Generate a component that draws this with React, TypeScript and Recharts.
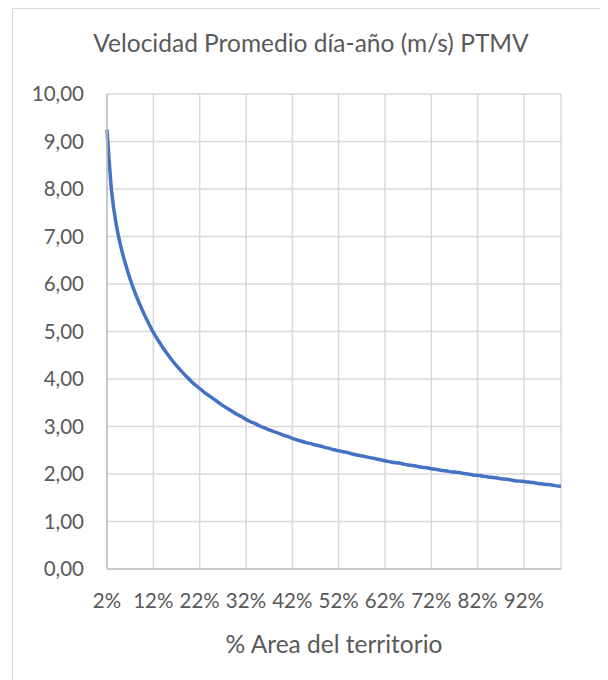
import React from 'react';
import { LineChart, Line, XAxis, YAxis, CartesianGrid } from 'recharts';

// % of territory area, 2% .. 100% in 1% steps
const areaPct = [
  2, 3, 4, 5, 6, 7, 8, 9, 10, 11,
  12, 13, 14, 15, 16, 17, 18, 19, 20, 21,
  22, 23, 24, 25, 26, 27, 28, 29, 30, 31,
  32, 33, 34, 35, 36, 37, 38, 39, 40, 41,
  42, 43, 44, 45, 46, 47, 48, 49, 50, 51,
  52, 53, 54, 55, 56, 57, 58, 59, 60, 61,
  62, 63, 64, 65, 66, 67, 68, 69, 70, 71,
  72, 73, 74, 75, 76, 77, 78, 79, 80, 81,
  82, 83, 84, 85, 86, 87, 88, 89, 90, 91,
  92, 93, 94, 95, 96, 97, 98, 99, 100,
];

// average day-year wind speed (m/s)
const speed = [
  9.25, 7.95, 7.25, 6.78, 6.42, 6.10, 5.83, 5.59, 5.37, 5.17,
  4.98, 4.82, 4.67, 4.53, 4.40, 4.28, 4.17, 4.07, 3.97, 3.88,
  3.80, 3.72, 3.65, 3.58, 3.51, 3.44, 3.38, 3.32, 3.26, 3.21,
  3.15, 3.10, 3.06, 3.01, 2.97, 2.93, 2.89, 2.86, 2.82, 2.79,
  2.75, 2.72, 2.69, 2.66, 2.64, 2.61, 2.59, 2.56, 2.54, 2.51,
  2.49, 2.47, 2.45, 2.42, 2.40, 2.38, 2.36, 2.34, 2.32, 2.30,
  2.28, 2.26, 2.24, 2.23, 2.21, 2.19, 2.18, 2.16, 2.14, 2.13,
  2.11, 2.10, 2.08, 2.07, 2.05, 2.04, 2.03, 2.01, 2.00, 1.98,
  1.97, 1.96, 1.94, 1.93, 1.92, 1.90, 1.89, 1.88, 1.86, 1.85,
  1.84, 1.83, 1.82, 1.80, 1.79, 1.78, 1.77, 1.75, 1.74,
];

const xTicks = ['2%', '12%', '22%', '32%', '42%', '52%', '62%', '72%', '82%', '92%'];
const yTicks = [0, 1, 2, 3, 4, 5, 6, 7, 8, 9, 10];

const data = areaPct.map((p, i) => ({ area: `${p}%`, v: speed[i] }));

const FONT = 'Lato, "Open Sans", sans-serif';
const TEXT = '#595959';

export default function App() {
  return (
    <div style={{ position: 'relative', width: 600, height: 672, overflow: 'hidden', background: '#fff', fontFamily: FONT }}>
      {/* chart area frame */}
      <div style={{ position: 'absolute', left: 4, top: 0, width: 640, height: 720, border: '1px solid #d9d9d9', boxSizing: 'border-box' }} />
      <div style={{ position: 'absolute', left: 0, top: 20, width: 606, textAlign: 'center', fontSize: 24.5, color: TEXT }}>
        Velocidad Promedio día-año (m/s) PTMV
      </div>
      <div style={{ position: 'absolute', left: 99, top: 621, width: 454, textAlign: 'center', fontSize: 24.5, color: TEXT }}>
        % Area del territorio
      </div>
      <div style={{ position: 'absolute', left: 0, top: 0 }}>
        <LineChart width={600} height={672} data={data} margin={{ top: 86, right: 47, bottom: 81, left: 39 }}>
          <CartesianGrid stroke="#d9d9d9" strokeWidth={1.5} />
          <XAxis
            dataKey="area"
            ticks={xTicks}
            interval={0}
            height={30}
            tickLine={false}
            stroke="#bfbfbf"
            strokeWidth={1.5}
            tickMargin={18}
            tick={{ fill: TEXT, fontSize: 20.5, fontFamily: FONT }}
          />
          <YAxis
            domain={[0, 10]}
            ticks={yTicks}
            width={60}
            tickLine={false}
            stroke="#bfbfbf"
            strokeWidth={1.5}
            tickMargin={17}
            tickFormatter={(v: number) => v.toFixed(2).replace('.', ',')}
            tick={{ fill: TEXT, fontSize: 20.5, fontFamily: FONT }}
          />
          <Line type="monotone" dataKey="v" stroke="#4472C4" strokeWidth={3.5} dot={false} isAnimationActive={false} />
        </LineChart>
      </div>
    </div>
  );
}
